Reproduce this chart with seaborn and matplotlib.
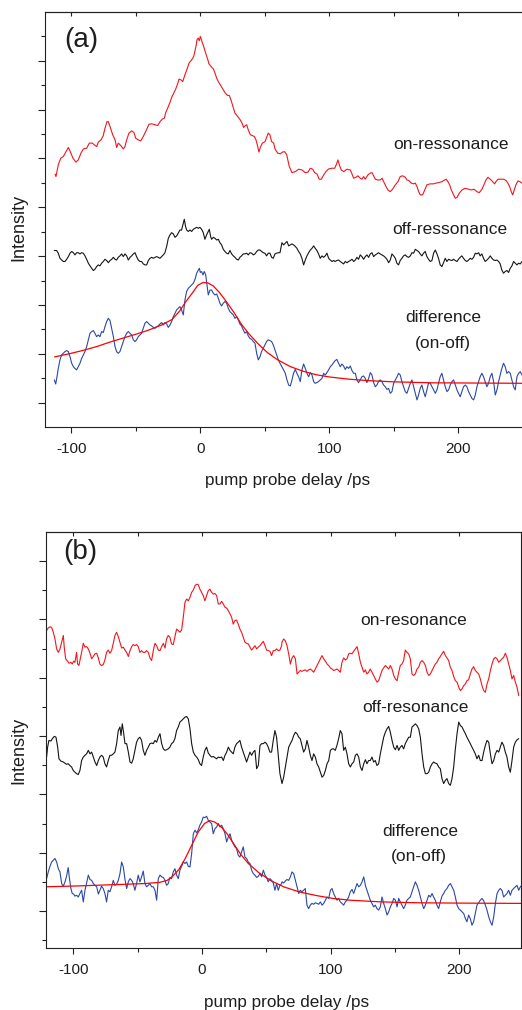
import numpy as np
import matplotlib
matplotlib.use("Agg")
import matplotlib.pyplot as plt
from matplotlib.ticker import NullFormatter
import seaborn as sns

# ---------------- panel (a) data ----------------
on_a_delay = [
    -112.6, -111.9, -110.1, -108.2, -106.2, -104.1, -102.3, -100.8, -98.7, -96.4,
    -94.6, -92.5, -90.7, -88.1, -86.0, -83.7, -81.6, -80.3, -79.1, -77.0,
    -75.2, -73.9, -72.3, -71.3, -70.0, -67.9, -66.1, -64.8, -63.6, -61.5,
    -59.7, -58.4, -57.1, -55.3, -53.2, -51.4, -50.1, -48.1, -46.2, -44.2,
    -42.1, -39.8, -37.7, -35.1, -33.0, -31.2, -29.5, -27.9, -26.8, -25.3,
    -23.7, -22.2, -20.6, -19.1, -17.5, -16.5, -15.0, -13.6, -11.9, -9.8,
    -8.8, -6.7, -5.1, -4.1, -3.1, -2.6, -1.6, -0.8, 0.0, 1.1,
    2.6, 4.2, 5.7, 6.7, 8.3, 10.1, 11.4, 12.7, 14.0, 15.5,
    17.1, 19.1, 21.2, 22.5, 23.8, 25.3, 26.9, 29.0, 31.0, 32.6,
    33.6, 34.7, 36.0, 37.2, 38.8, 40.3, 41.9, 43.2, 44.5, 45.5,
    46.5, 48.1, 50.2, 51.7, 52.7, 54.0, 55.3, 56.9, 57.9, 60.0,
    62.0, 63.6,
    65.4, 67.0, 69.0, 71.1, 73.6, 76.3, 78.8, 81.4, 83.5, 85.3,
    87.1, 88.7, 90.5, 92.2, 93.8, 95.7, 97.4, 99.5, 102.1, 104.2,
    105.4, 106.7, 107.8, 109.3, 111.2, 113.7, 116.3, 117.6, 118.9, 120.7,
    122.2, 124.0, 125.3, 126.7, 127.9, 130.0, 131.8, 133.1, 134.4, 135.7,
    137.5, 139.5, 140.9, 142.2, 144.0, 145.5, 147.3, 149.1, 151.2, 153.3,
    155.0, 156.9, 158.9, 160.2, 161.6, 163.6, 165.4, 166.7, 168.0, 169.3,
    170.5, 172.4, 174.0, 175.7, 178.3, 180.9, 182.7, 184.8, 187.4, 189.5,
    190.7, 192.0, 193.3, 194.6, 196.4, 197.7, 199.0, 200.8, 202.9, 205.4,
    208.1, 210.1, 212.2, 214.5, 216.3, 218.4, 220.5, 221.5, 223.0, 224.8,
    226.7, 228.2, 229.2, 230.8, 232.6, 235.2, 237.0, 238.5, 239.8, 241.1,
    242.2, 243.4, 244.7, 246.3, 247.8, 249.4]
on_a_signal = [
    10.36, 10.26, 10.74, 11.01, 11.08, 11.28, 11.45, 11.28, 11.01, 10.85,
    10.94, 11.22, 11.39, 11.42, 11.63, 11.63, 11.53, 11.49, 11.67, 11.76,
    11.94, 12.24, 12.51, 12.51, 12.31, 11.97, 11.76, 11.45, 11.63, 11.52,
    11.39, 11.49, 11.76, 12.04, 12.13, 12.06, 11.83, 11.76, 11.72, 11.90,
    12.13, 12.40, 12.42, 12.38, 12.35, 12.51, 12.61, 12.65, 12.88, 13.06,
    13.27, 13.50, 13.68, 13.84, 14.07, 14.25, 14.22, 14.15, 14.43, 14.73,
    14.90, 15.04, 15.18, 15.41, 15.66, 15.86, 15.93, 15.82, 16.00, 15.82,
    15.59, 15.31, 15.07, 14.88, 14.77, 14.67, 14.50, 14.29, 14.15, 14.02,
    13.88, 13.70, 13.58, 13.58, 13.40, 13.13, 12.86, 12.72, 12.58, 12.42,
    12.27, 12.34, 12.38, 12.17, 11.97, 11.94, 11.90, 11.76, 11.49, 11.26,
    11.45, 11.63, 11.69, 11.90, 12.04, 11.97, 11.69, 11.63, 11.39, 11.22,
    11.19, 11.26,
    11.28, 11.15, 10.67, 10.42, 10.46, 10.56, 10.53, 10.42, 10.44, 10.60,
    10.56, 10.42, 10.36, 10.15, 10.15, 10.33, 10.46, 10.57, 10.60, 10.60,
    10.74, 10.94, 10.74, 10.53, 10.46, 10.56, 10.53, 10.37, 10.19, 10.23,
    10.29, 10.19, 10.15, 10.26, 10.15, 10.33, 10.40, 10.42, 10.29, 10.15,
    10.12, 10.12, 10.19, 10.05, 9.85, 9.71, 9.64, 9.74, 9.92, 10.05,
    10.26, 10.29, 10.23, 10.12, 10.10, 9.99, 9.96, 9.99, 9.85, 9.64,
    9.51, 9.51, 9.71, 9.92, 9.96, 9.96, 9.99, 10.01, 10.05, 10.12,
    10.15, 10.05, 9.92, 9.71, 9.51, 9.37, 9.40, 9.58, 9.71, 9.78,
    9.74, 9.71, 9.74, 9.64, 9.60, 9.74, 9.99, 10.12, 10.23, 10.15,
    10.05, 9.96, 10.05, 10.15, 10.15, 10.15, 10.10, 9.99, 9.85, 9.64,
    9.51, 9.71, 9.92, 10.08, 10.05, 9.99]

off_a_delay = [
    -113.2, -111.4, -110.1, -108.8, -107.5, -106.2, -104.9, -103.6, -102.3, -101.0,
    -99.7, -98.4, -97.2, -95.9, -94.6, -93.3, -92.0, -90.7, -89.4, -88.1,
    -86.8, -85.5, -84.2, -82.9, -81.7, -80.4, -79.1, -77.8, -76.5, -75.2,
    -73.9, -72.6, -71.3, -70.0, -68.7, -67.4, -66.1, -64.9, -63.6, -62.3,
    -61.0, -59.7, -58.4, -57.1, -55.8, -54.5, -53.2, -51.9, -50.6, -49.4,
    -48.1, -46.8, -45.5, -44.2, -42.9, -41.6, -40.3, -39.0, -37.7, -36.4,
    -35.1, -33.9, -32.6, -31.3, -30.0, -28.7, -27.4, -26.1, -24.8, -23.5,
    -22.2, -20.9, -19.6, -18.3, -17.1, -15.8, -14.5, -13.2, -12.4, -11.4,
    -10.6, -9.3, -8.0, -6.7, -5.4, -4.1, -2.8, -1.5, -0.3, 1.0,
    2.3, 3.6, 4.9, 6.2, 7.0, 8.0, 8.8, 10.1, 11.4, 12.7,
    14.0, 15.2, 16.5, 17.8, 19.1, 20.4, 21.7, 23.0, 24.3, 25.6,
    26.9, 28.2, 29.5, 30.7, 32.0, 33.3, 34.6, 35.9, 37.2, 38.5,
    39.8, 41.1, 42.4, 43.7, 45.0, 46.3, 47.5, 48.8, 50.1, 51.4,
    52.7, 54.0, 55.3, 56.6, 57.9, 59.2, 60.5, 61.8,
    63.3, 64.6, 65.9, 67.2, 68.5, 69.8, 71.1, 72.3, 73.6, 74.9,
    76.2, 77.5, 78.8, 80.1, 81.4, 82.7, 84.0, 85.3, 86.6, 87.9,
    89.1, 90.4, 91.7, 93.0, 94.3, 95.6, 96.9, 98.2, 99.5, 100.8,
    102.1, 103.4, 104.6, 105.9, 107.2, 108.5, 109.8, 111.1, 112.4, 113.7,
    115.0, 116.3, 117.6, 118.9, 120.2, 121.4, 122.7, 124.0, 125.3, 126.6,
    127.9, 129.2, 130.5, 131.8, 133.1, 134.4, 135.7, 136.9, 138.2, 139.5,
    140.8, 142.1, 143.4, 144.7, 146.0, 147.3, 148.6, 149.9, 151.2, 152.4,
    153.7, 155.0, 156.3, 157.6, 158.9, 160.2, 161.5, 162.8, 164.1, 165.4,
    166.7, 168.0, 169.2, 170.5, 171.8, 173.1, 174.4, 175.7, 177.0, 178.3,
    179.6, 180.9, 182.2, 183.5, 184.7, 186.0, 187.3, 188.6, 189.9, 191.2,
    192.5, 193.8, 195.1, 196.4, 197.7, 199.0, 200.2, 201.5, 202.8, 204.1,
    205.4, 206.7, 208.0, 209.3, 210.6, 211.9, 213.2, 214.5, 215.8, 217.0,
    218.3, 219.6, 220.9, 222.2, 223.5, 224.8, 226.1, 227.4, 228.7, 230.0,
    231.3, 232.5, 233.8, 235.1, 236.4, 237.7, 239.0, 240.3, 241.6, 242.9,
    244.2, 245.5, 246.8, 248.1, 249.4]
off_a_signal = [
    7.23, 7.23, 7.12, 6.91, 6.84, 6.78, 6.78, 6.87, 6.98, 7.12,
    7.19, 7.14, 7.05, 7.14, 7.14, 7.09, 7.14, 7.12, 7.01, 6.87,
    6.71, 6.60, 6.50, 6.41, 6.46, 6.57, 6.64, 6.60, 6.71, 6.78,
    6.87, 6.82, 6.73, 6.82, 6.87, 6.95, 6.87, 6.84, 6.95, 7.01,
    7.09, 6.98, 7.09, 7.01, 6.84, 6.95, 7.01, 7.09, 7.14, 6.98,
    6.84, 6.78, 6.78, 6.68, 6.64, 6.64, 6.82, 6.91, 6.95, 6.91,
    6.95, 6.98, 6.95, 6.91, 6.98, 7.05, 7.14, 7.39, 7.73, 7.87,
    7.96, 7.91, 7.77, 7.83, 7.94, 8.07, 8.07, 8.35, 8.51, 8.21,
    8.07, 8.01, 8.07, 8.01, 8.10, 8.14, 8.18, 8.14, 8.18, 8.10,
    7.96, 7.69, 7.87, 8.01, 8.10, 7.80, 7.69, 7.77, 7.73, 7.66,
    7.69, 7.55, 7.46, 7.28, 7.19, 7.12, 7.09, 7.23, 7.09, 7.01,
    6.95, 6.87, 6.84, 6.95, 7.01, 7.09, 7.09, 7.12, 7.05, 7.14,
    7.12, 7.05, 7.09, 7.19, 7.25, 7.25, 7.19, 7.14, 7.12, 7.01,
    7.12, 7.12, 6.95, 6.91, 7.09, 7.12, 7.14, 7.14,
    7.55, 7.46, 7.53, 7.60, 7.42, 7.46, 7.50, 7.46, 7.40, 7.32,
    7.19, 7.09, 6.91, 6.64, 6.84, 7.01, 7.14, 7.25, 7.32, 7.42,
    7.32, 7.23, 7.09, 6.91, 7.01, 6.95, 7.01, 7.12, 6.91, 6.84,
    6.78, 6.82, 6.78, 6.82, 6.84, 6.78, 6.73, 6.68, 6.78, 6.73,
    6.78, 6.82, 6.87, 6.78, 6.84, 6.95, 6.87, 7.05, 6.98, 6.87,
    6.98, 7.05, 6.95, 7.09, 7.14, 6.98, 7.05, 7.09, 7.14, 7.09,
    7.05, 7.01, 6.95, 6.87, 6.73, 6.84, 7.09, 7.01, 6.91, 6.71,
    6.64, 6.82, 6.91, 7.01, 7.05, 6.98, 6.95, 7.01, 7.14, 7.12,
    7.28, 7.23, 7.19, 7.09, 7.01, 7.12, 7.19, 6.98, 6.87, 6.78,
    6.82, 7.12, 7.25, 7.09, 6.91, 6.64, 6.57, 6.73, 6.91, 6.78,
    6.87, 6.84, 6.82, 6.87, 6.82, 6.78, 6.87, 6.95, 7.01, 6.91,
    6.82, 6.78, 6.84, 6.91, 6.87, 6.95, 7.12, 7.09, 7.14, 7.01,
    7.09, 6.91, 6.78, 6.84, 6.91, 7.01, 6.91, 6.84, 6.82, 6.84,
    6.78, 6.68, 6.43, 6.30, 6.37, 6.41, 6.33, 6.50, 6.60, 6.78,
    6.71, 6.64, 6.71, 6.68, 6.78]

diff_a_delay = [
    -113.2, -112.1, -111.1, -110.1, -108.8, -107.5, -106.2, -104.9, -103.6, -102.3,
    -101.0, -99.7, -98.4, -97.2, -95.9, -94.6, -93.3, -92.0, -90.7, -89.4,
    -88.1, -86.8, -85.5, -84.2, -82.9, -81.7, -80.4, -79.1, -77.8, -76.5,
    -75.2, -73.9, -72.6, -71.3, -70.0, -68.7, -67.4, -66.1, -64.9, -63.6,
    -62.3, -61.0, -59.7, -58.4, -57.1, -55.8, -54.5, -53.2, -51.9, -50.6,
    -49.4, -48.1, -46.8, -45.5, -44.2, -42.9, -41.6, -40.3, -39.0, -37.7,
    -36.4, -35.1, -33.9, -32.6, -31.3, -30.0, -28.7, -27.4, -26.1, -24.8,
    -23.5, -22.2, -20.9, -19.6, -18.3, -17.1, -15.8, -14.5, -13.2, -11.9,
    -10.6, -9.3, -8.0, -6.7, -5.4, -4.1, -2.8, -1.5, -0.7, 0.0,
    1.0, 2.1, 3.1, 4.2, 5.2, 6.2, 7.5, 8.8, 10.1, 11.4,
    12.7, 14.0, 15.2, 16.5, 17.8, 19.1, 20.4, 21.7, 23.0, 24.3,
    25.6, 26.9, 28.2, 29.5, 30.7, 32.0, 33.3, 34.6, 35.9, 37.2,
    38.5, 39.8, 41.1, 42.4, 43.7, 45.0, 46.3, 47.5, 48.8, 50.1,
    51.4, 52.7, 54.0, 55.3, 56.6, 57.9, 59.2, 60.5, 61.8,
    63.3, 64.6, 65.9, 67.2, 68.5, 69.8, 71.1, 72.3, 73.6, 74.9,
    76.2, 77.5, 78.8, 80.1, 81.4, 82.7, 84.0, 85.3, 86.6, 87.9,
    89.1, 90.4, 91.7, 93.0, 94.3, 95.6, 96.9, 98.2, 99.5, 100.8,
    102.1, 103.4, 104.6, 105.9, 107.2, 108.5, 109.8, 111.1, 112.4, 113.7,
    115.0, 116.3, 117.6, 118.9, 120.2, 121.4, 122.7, 124.0, 125.3, 126.6,
    127.9, 129.2, 130.5, 131.8, 133.1, 134.4, 135.7, 136.9, 138.2, 139.5,
    140.8, 142.1, 143.4, 144.7, 146.0, 147.3, 148.6, 149.9, 151.2, 152.4,
    153.7, 155.0, 156.3, 157.6, 158.9, 160.2, 161.5, 162.8, 164.1, 165.4,
    166.7, 168.0, 169.2, 170.5, 171.8, 173.1, 174.4, 175.7, 177.0, 178.3,
    179.6, 180.9, 182.2, 183.5, 184.7, 186.0, 187.3, 188.6, 189.9, 191.2,
    192.5, 193.8, 195.1, 196.4, 197.7, 199.0, 200.2, 201.5, 202.8, 204.1,
    205.4, 206.7, 208.0, 209.3, 210.6, 211.9, 213.2, 214.5, 215.8, 217.0,
    218.3, 219.6, 220.9, 222.2, 223.5, 224.8, 226.1, 227.4, 228.7, 230.0,
    231.3, 232.5, 233.8, 235.1, 236.4, 237.7, 239.0, 240.3, 241.6, 242.9,
    244.2, 245.5, 246.8, 248.1, 249.4]
diff_a_signal = [
    1.93, 1.76, 2.06, 2.40, 2.75, 2.95, 3.02, 3.09, 3.13, 3.09,
    2.88, 2.61, 2.47, 2.40, 2.34, 2.47, 2.61, 2.81, 2.95, 3.09,
    3.29, 3.57, 3.84, 3.91, 3.95, 3.84, 3.70, 3.77, 3.70, 3.91,
    3.87, 4.11, 4.32, 4.45, 4.36, 4.04, 3.70, 3.29, 3.09, 3.02,
    3.09, 3.29, 3.50, 3.70, 3.84, 3.91, 3.84, 3.77, 3.57, 3.50,
    3.57, 3.70, 3.77, 3.84, 4.04, 4.25, 4.32, 4.25, 4.18, 4.14,
    4.08, 4.04, 4.11, 4.14, 4.22, 4.28, 4.18, 4.28, 4.22, 4.08,
    4.18, 4.32, 4.52, 4.66, 4.80, 4.86, 4.93, 4.80, 4.59, 5.20,
    5.55, 5.68, 5.75, 5.82, 5.89, 6.05, 6.30, 6.43, 6.50, 6.33,
    6.37, 6.23, 6.37, 6.23, 5.82, 5.41, 5.61, 5.61, 5.48, 5.41,
    5.45, 5.27, 5.07, 4.96, 5.07, 5.14, 5.07, 4.86, 4.73, 4.66,
    4.59, 4.45, 4.52, 4.39, 4.22, 4.14, 3.98, 3.84, 3.91, 3.73,
    3.63, 3.59, 3.50, 3.43, 3.02, 2.75, 2.88, 3.09, 3.22, 3.36,
    3.50, 3.57, 3.54, 3.50, 3.36, 3.16, 2.95, 2.75, 2.61,
    2.47, 2.34, 2.20, 1.93, 1.72, 1.68, 1.93, 2.20, 2.36, 2.20,
    2.06, 1.86, 2.34, 2.58, 2.40, 2.20, 2.06, 2.23, 2.13, 1.86,
    1.79, 1.82, 1.86, 1.93, 1.99, 2.20, 2.13, 2.23, 2.34, 2.47,
    2.54, 2.64, 2.72, 2.77, 2.61, 2.47, 2.58, 2.50, 2.36, 2.47,
    2.40, 2.50, 2.31, 2.20, 2.20, 1.93, 1.82, 1.93, 2.06, 2.09,
    1.99, 1.82, 1.99, 2.23, 2.13, 1.82, 1.65, 1.72, 1.86, 1.93,
    1.86, 1.72, 1.65, 1.54, 1.58, 1.38, 1.45, 1.79, 1.93, 2.04,
    2.20, 2.13, 1.86, 1.65, 1.45, 1.38, 1.58, 1.79, 1.93, 1.65,
    1.38, 1.11, 1.31, 1.58, 1.72, 1.45, 1.24, 1.52, 1.82, 1.79,
    1.65, 1.52, 1.38, 1.52, 1.79, 2.06, 2.20, 1.93, 1.65, 1.45,
    1.52, 1.72, 1.86, 1.93, 1.72, 1.52, 1.38, 1.24, 1.45, 1.65,
    1.72, 1.65, 1.45, 1.31, 1.17, 1.11, 1.31, 1.65, 1.86, 2.06,
    2.20, 2.06, 1.86, 1.65, 1.79, 2.06, 2.20, 1.86, 1.31, 1.52,
    1.86, 2.13, 2.40, 2.61, 2.47, 2.20, 2.27, 2.20, 1.93, 1.65,
    1.52, 2.06, 2.20, 2.27, 2.13]

fit_a_delay = [-113, -100, -90, -80, -70, -60, -50, -40, -30, -22,
               -16, -11, -6, -2, 2, 6, 10, 15, 20, 26,
               32, 38, 45, 52, 60, 70, 80, 90, 100, 115,
               130, 150, 180, 250]
fit_a_signal = [2.87, 3.02, 3.15, 3.30, 3.48, 3.64, 3.80, 3.97, 4.18, 4.40,
                4.75, 5.15, 5.50, 5.80, 5.92, 5.90, 5.78, 5.50, 5.15, 4.70,
                4.20, 3.80, 3.40, 3.05, 2.75, 2.47, 2.28, 2.14, 2.05, 1.96,
                1.90, 1.85, 1.81, 1.79]

# ---------------- panel (b) data ----------------
grid_b_left = [
    -92.2, -90.9, -89.6, -88.3, -87.0, -85.7, -84.4, -83.1, -81.8, -80.5,
    -79.3, -78.0, -76.7, -75.4, -74.1, -72.8, -71.5, -70.2, -68.9, -67.6,
    -66.3, -65.0, -63.7, -62.4, -61.1, -59.8, -58.5, -57.2, -55.9, -54.6,
    -53.4, -52.1, -50.8, -49.5, -48.2, -46.9, -45.6, -44.3, -43.0, -41.7,
    -40.4, -39.1, -37.8, -36.5, -35.2, -33.9, -32.6, -31.3, -30.0, -28.7,
    -27.5, -26.2, -24.9, -23.6, -22.3, -21.0, -19.7, -18.4, -17.1, -15.8,
    -14.5, -13.2, -11.9, -10.6, -9.3, -8.0, -6.7, -5.4, -4.1, -2.8,
    -1.6, -0.3, 1.0, 2.3, 3.6, 4.9, 6.2, 7.5, 8.8, 10.1,
    11.4, 12.7, 14.0, 15.3, 16.6, 17.9, 19.2, 20.5, 21.8, 23.1,
    24.3, 25.6, 26.9, 28.2, 29.5, 30.8, 32.1, 33.4, 34.7, 36.0,
    37.3, 38.6, 39.9, 41.2, 42.5, 43.8, 45.1, 46.4, 47.7, 49.0,
    50.2, 51.5, 52.8, 54.1, 55.4, 56.7, 58.0, 59.3, 60.6, 61.9]
grid_b_right = [
    62.2, 63.5, 64.8, 66.1, 67.4, 68.7, 70.0, 71.3, 72.6, 73.9,
    75.2, 76.4, 77.7, 79.0, 80.3, 81.6, 82.9, 84.2, 85.5, 86.8,
    88.1, 89.4, 90.7, 92.0, 93.3, 94.6, 95.9, 97.2, 98.5, 99.8,
    101.1, 102.3, 103.6, 104.9, 106.2, 107.5, 108.8, 110.1, 111.4, 112.7,
    114.0, 115.3, 116.6, 117.9, 119.2, 120.5, 121.8, 123.1, 124.4, 125.7,
    127.0, 128.2, 129.5, 130.8, 132.1, 133.4, 134.7, 136.0, 137.3, 138.6,
    139.9, 141.2, 142.5, 143.8, 145.1, 146.4, 147.7, 149.0, 150.3, 151.6,
    152.9, 154.1, 155.4, 156.7, 158.0, 159.3, 160.6, 161.9, 163.2, 164.5,
    165.8, 167.1, 168.4, 169.7, 171.0, 172.3, 173.6, 174.9, 176.2, 177.5,
    178.8, 180.0, 181.3, 182.6, 183.9, 185.2, 186.5, 187.8, 189.1, 190.4,
    191.7, 193.0, 194.3, 195.6, 196.9, 198.2, 199.5, 200.8, 202.1, 203.4,
    204.7, 205.9, 207.2, 208.5, 209.8, 211.1, 212.4, 213.7, 215.0, 216.3,
    217.6, 218.9, 220.2, 221.5, 222.8, 224.1, 225.4, 226.7, 228.0, 229.3,
    230.6, 231.8, 233.1, 234.4, 235.7, 237.0, 238.3, 239.6, 240.9, 242.2,
    243.5, 244.8, 246.1, 247.4, 248.7]

on_b_delay = ([-120.7, -119.4, -118.1, -116.8, -115.5, -114.2, -112.9, -111.6, -110.3, -109.0,
               -107.7, -107.0, -105.9, -104.4, -103.3, -101.8, -100.8, -99.7, -98.7, -97.4,
               -96.6, -95.6, -94.5, -93.5] + grid_b_left + grid_b_right[:143])
on_b_signal = [
    10.62, 10.71, 10.75, 10.73, 10.56, 10.33, 9.99, 9.87, 9.99, 10.22,
    10.45, 10.05, 9.65, 9.57, 9.50, 9.53, 9.47, 9.57, 9.53, 9.87,
    9.47, 9.42, 9.65, 9.87,
    10.18, 10.05, 10.07, 9.99, 9.84, 9.65, 9.73, 9.82, 9.84, 9.68,
    9.47, 9.42, 9.45, 9.61, 9.87, 9.95, 9.84, 9.93, 10.18, 10.45,
    10.56, 10.41, 10.22, 10.02, 10.05, 9.95, 9.87, 9.73, 9.93, 10.07,
    10.14, 10.10, 10.14, 10.07, 9.87, 9.93, 9.87, 9.87, 9.93, 9.87,
    9.68, 9.59, 9.93, 10.18, 10.10, 9.95, 9.93, 10.07, 10.18, 10.02,
    10.33, 10.45, 10.39, 10.16, 10.14, 10.41, 10.67, 10.62, 10.56, 10.64,
    11.07, 11.59, 11.70, 11.64, 11.76, 11.93, 12.01, 12.16, 12.21, 12.19,
    12.04, 11.93, 11.82, 11.64, 11.82, 11.99, 12.04, 11.93, 11.87, 11.89,
    11.82, 11.53, 11.53, 11.62, 11.53, 11.42, 11.39, 11.30, 11.19, 11.07,
    10.84, 10.96, 10.98, 10.84, 10.67, 10.56, 10.39, 10.22, 10.18, 10.16,
    10.05, 9.95, 10.02, 10.10, 9.99, 10.05, 10.10, 10.18, 10.25, 10.10,
    9.95, 9.93, 9.91, 9.76, 9.93, 9.93, 9.99, 9.93, 9.95, 10.10,
    10.22, 10.33, 10.27, 10.10, 9.82, 9.47, 9.68, 9.76, 9.65, 9.13,
    9.19, 9.25, 9.22, 9.25, 9.27, 9.22, 9.27, 9.30, 9.25, 9.19,
    9.30, 9.42, 9.53, 9.65, 9.76, 9.65, 9.57, 9.47, 9.42, 9.34,
    9.30, 9.25, 9.27, 9.30, 9.25, 9.19, 9.53, 9.68, 9.61, 9.65,
    9.82, 9.84, 9.82, 9.91, 9.99, 10.07, 9.82, 9.53, 9.36, 9.19,
    9.27, 9.13, 9.19, 9.30, 9.19, 9.08, 8.96, 8.85, 8.90, 9.08,
    9.25, 9.34, 9.42, 9.36, 9.30, 9.42, 9.30, 9.08, 8.96, 8.90,
    9.19, 9.42, 9.47, 9.59, 9.95, 9.87, 9.82, 9.65, 9.13, 9.08,
    9.13, 9.30, 9.36, 9.53, 9.59, 9.53, 9.42, 9.19, 9.08, 9.13,
    9.25, 9.36, 9.47, 9.53, 9.65, 9.73, 9.82, 9.91, 9.76, 9.68,
    9.59, 9.36, 9.25, 9.04, 8.90, 8.85, 8.68, 8.56, 8.62, 8.73,
    8.79, 8.90, 8.93, 9.13, 9.30, 9.38, 9.25, 9.19, 9.13, 8.96,
    8.73, 8.56, 8.50, 8.79, 8.96, 9.25, 9.47, 9.65, 9.70, 9.65,
    9.53, 9.59, 9.65, 9.70, 9.84, 9.70, 9.47, 9.25, 8.96, 9.08,
    8.85, 8.68, 8.39]

off_b_delay = ([-120.7, -119.9, -118.9, -117.3, -116.3, -114.7, -113.4, -112.1, -111.1, -109.6,
                -107.7, -106.4, -105.2, -103.9, -102.6, -101.3, -100.0, -98.7, -97.4, -96.1,
                -94.8, -93.5] + grid_b_left[:23] + [-62.9, -61.9, -61.1] + grid_b_left[25:]
               + grid_b_right[:143])
off_b_signal = [
    6.28, 6.62, 6.85, 6.83, 6.91, 6.99, 6.96, 6.62, 6.22, 6.14,
    6.11, 6.07, 6.03, 6.05, 5.99, 5.94, 5.82, 5.76, 5.71, 5.68,
    5.82, 6.16, 6.28, 6.34, 6.39, 6.51, 6.39, 6.45, 6.28, 6.11,
    5.99, 6.16, 6.28, 6.34, 6.28, 6.05, 5.94, 6.16, 6.34, 6.34,
    6.39, 6.45, 6.74, 7.19, 7.31, 7.02, 7.42, 7.19, 6.74, 6.74,
    6.45, 6.11, 6.07, 6.22, 6.51, 6.79, 6.91, 6.96, 6.85, 6.51,
    6.34, 6.51, 6.62, 6.74, 6.76, 6.74, 6.85, 6.79, 6.96, 7.08,
    6.74, 6.56, 6.51, 6.53, 6.56, 6.62, 6.74, 6.79, 6.91, 7.19,
    7.31, 7.48, 7.53, 7.59, 7.65, 7.67, 7.59, 7.25, 6.74, 6.45,
    6.34, 6.28, 6.19, 6.05, 5.99, 6.28, 6.51, 6.62, 6.42, 6.34,
    6.28, 6.30, 6.26, 6.22, 6.28, 6.26, 6.28, 6.16, 6.34, 6.45,
    6.62, 6.51, 6.45, 6.39, 6.62, 6.74, 6.79, 6.85, 6.62, 6.45,
    6.28, 6.11, 6.28, 6.45, 6.34, 6.45, 6.51, 5.88, 5.99, 6.68,
    6.74, 6.74, 6.79, 6.74, 6.62, 6.45, 6.45, 6.85, 7.19, 6.96,
    6.34, 5.71, 5.42,
    5.37, 5.59, 5.94, 6.28, 6.62, 6.74, 6.85, 7.02, 7.13, 7.08,
    6.96, 6.91, 6.68, 6.45, 6.56, 6.85, 6.62, 6.34, 6.16, 6.39,
    6.28, 6.05, 5.94, 5.76, 5.59, 5.65, 5.82, 6.05, 6.16, 6.51,
    6.56, 6.56, 6.51, 6.68, 6.91, 7.19, 7.08, 6.51, 6.62, 6.39,
    6.05, 5.94, 6.05, 6.11, 6.34, 6.39, 6.28, 5.94, 5.82, 6.05,
    6.19, 6.05, 6.16, 6.16, 6.28, 6.11, 6.16, 5.99, 6.05, 6.39,
    6.68, 6.96, 7.13, 7.25, 7.33, 7.13, 6.85, 6.62, 6.53, 6.68,
    6.51, 6.62, 6.68, 6.56, 6.74, 6.85, 6.96, 6.96, 7.31, 7.36,
    7.42, 7.36, 7.25, 6.96, 6.39, 5.94, 5.71, 5.71, 5.76, 5.94,
    6.05, 6.11, 6.07, 6.05, 5.94, 5.88, 5.54, 5.37, 5.48, 5.54,
    5.37, 5.31, 5.54, 5.94, 6.56, 7.08, 7.48, 7.36, 7.31, 7.19,
    7.08, 6.96, 6.85, 6.74, 6.62, 6.51, 6.39, 6.22, 6.34, 6.16,
    6.16, 6.45, 6.68, 6.85, 6.79, 6.39, 6.05, 6.16, 6.39, 6.51,
    6.45, 6.62, 6.79, 6.68, 6.45, 6.28, 5.94, 5.76, 6.16, 6.62,
    6.79, 6.87, 6.91]

diff_b_delay = ([-120.7, -119.4, -118.1, -116.8, -115.5, -114.2, -112.9, -111.6, -110.3, -109.0,
                 -107.7, -106.4, -105.2, -103.9, -103.1, -101.8, -100.8, -99.7, -98.7, -97.4,
                 -96.1, -94.8, -93.5] + grid_b_left + grid_b_right)
diff_b_signal = [
    2.11, 2.34, 2.53, 2.68, 2.74, 2.80, 2.68, 2.45, 2.34, 1.94,
    1.85, 2.00, 2.19, 2.49, 2.17, 1.77, 1.60, 1.58, 1.51, 1.54,
    1.48, 1.60, 1.71, 1.31, 1.71, 1.96, 2.23, 2.08, 2.05, 1.94,
    1.88, 1.83, 1.58, 1.71, 1.85, 1.77, 1.60, 1.31, 1.71, 1.66,
    1.83, 2.05, 1.88, 1.92, 2.05, 2.28, 2.68, 2.51, 2.08, 1.77,
    2.00, 2.11, 2.05, 1.94, 1.71, 1.94, 2.23, 2.00, 2.17, 2.37,
    1.94, 1.83, 1.88, 1.94, 1.83, 1.83, 1.71, 1.37, 2.11, 2.23,
    2.17, 2.15, 2.05, 1.88, 1.94, 2.15, 2.11, 2.34, 2.45, 2.23,
    2.11, 2.40, 2.53, 2.68, 2.63, 2.68, 2.53, 2.51, 2.97, 3.65,
    3.77, 3.68, 3.79, 3.94, 4.05, 4.22, 4.20, 4.25, 4.11, 4.05,
    4.00, 3.65, 3.82, 3.88, 4.00, 3.88, 3.94, 3.82, 3.65, 3.37,
    3.54, 3.65, 3.42, 3.31, 3.20, 3.14, 2.91, 2.85, 3.03, 3.20,
    2.85, 2.80, 2.68, 2.63, 2.40, 2.28, 2.23, 2.15, 2.19, 2.28,
    2.17, 2.40, 2.23, 2.15, 2.00, 2.11, 2.05, 1.96, 1.71, 1.94,
    1.71, 1.88, 1.94,
    2.00, 1.96, 2.03, 2.08, 2.05, 2.17, 2.34, 2.28, 2.05, 1.83,
    1.60, 1.71, 1.66, 1.71, 1.77, 1.20, 1.08, 1.20, 1.26, 1.23,
    1.28, 1.26, 1.23, 1.31, 1.20, 1.26, 1.37, 1.48, 1.43, 1.71,
    1.77, 1.60, 1.48, 1.37, 1.43, 1.31, 1.26, 1.20, 1.31, 1.37,
    1.48, 1.66, 1.74, 1.60, 1.77, 1.94, 1.83, 1.88, 2.00, 2.17,
    1.88, 1.71, 1.54, 1.37, 1.26, 1.14, 1.20, 1.08, 1.03, 1.14,
    1.48, 1.26, 1.08, 0.86, 0.97, 1.14, 1.26, 1.43, 1.37, 1.14,
    1.43, 1.31, 1.20, 1.08, 1.20, 1.37, 1.43, 1.48, 1.66, 1.83,
    2.00, 1.88, 1.71, 1.48, 1.26, 1.08, 1.20, 1.37, 1.54, 1.48,
    1.60, 1.48, 1.37, 1.20, 1.08, 1.31, 1.51, 1.60, 1.71, 1.77,
    1.88, 1.94, 1.83, 1.71, 1.48, 1.20, 1.08, 1.03, 0.97, 0.91,
    0.74, 0.63, 0.86, 0.74, 0.51, 0.63, 0.91, 1.20, 1.28, 1.37,
    1.43, 1.35, 1.20, 1.03, 0.80, 0.63, 0.51, 0.80, 1.26, 1.60,
    1.71, 1.77, 1.71, 1.48, 1.54, 1.60, 1.71, 1.54, 1.71, 1.77,
    1.83, 1.88, 1.71, 1.83, 1.88]

fit_b_delay = [-121, -96, -70, -45, -33, -27, -23, -18, -13, -8,
               -3, 2, 6, 10, 15, 20, 25, 30, 36, 44,
               54, 64, 76, 90, 102, 115, 140, 170, 200, 248]
fit_b_signal = [1.83, 1.86, 1.90, 1.94, 1.98, 2.05, 2.18, 2.42, 2.80, 3.25,
                3.70, 4.00, 4.10, 4.05, 3.88, 3.62, 3.28, 2.95, 2.63, 2.32,
                2.03, 1.82, 1.65, 1.52, 1.43, 1.37, 1.31, 1.28, 1.27, 1.26]

x_major = [-100, 0, 100, 200]
x_minor = [-50, 50, 150]

# ---------------- styling ----------------
sns.set_style("ticks")
plt.rcParams["font.family"] = ["Liberation Sans", "DejaVu Sans"]
plt.rcParams["axes.unicode_minus"] = False

RED = "#f2151c"
BLUE = "#2a48a8"
BLACK = "#151515"
TXT = "#1e1e1e"
SPINE = "#222222"

fig = plt.figure(figsize=(5.22, 10.10), dpi=100)
ax_a = fig.add_axes([45 / 522, 1 - 427 / 1010, (523 - 45) / 522, 415 / 1010])
ax_b = fig.add_axes([45.7 / 522, 1 - 948 / 1010, (521 - 45.7) / 522, 416 / 1010])


def draw(ax, x, y, color, lw=0.8):
    assert len(x) == len(y), (len(x), len(y))
    sns.lineplot(x=np.asarray(x, float), y=np.asarray(y, float), ax=ax, color=color,
                 linewidth=lw, estimator=None, sort=False, legend=False)


draw(ax_a, on_a_delay, on_a_signal, RED)
draw(ax_a, off_a_delay, off_a_signal, BLACK)
draw(ax_a, diff_a_delay, diff_a_signal, BLUE)
draw(ax_a, fit_a_delay, fit_a_signal, "#ff0000", 0.9)

draw(ax_b, on_b_delay, on_b_signal, RED)
draw(ax_b, off_b_delay, off_b_signal, BLACK)
draw(ax_b, diff_b_delay, diff_b_signal, BLUE)
draw(ax_b, fit_b_delay, fit_b_signal, "#ff0000", 0.9)

ax_a.set_xlim(-120.4, 250.2)
ax_a.set_ylim(0, 17)
ax_b.set_xlim(-121.4, 247.9)
ax_b.set_ylim(-0.27, 14.0)

for ax, ymaj, ymin in ((ax_a, np.arange(1, 16, 2), np.arange(2, 17, 2)),
                       (ax_b, np.arange(1, 14, 2), np.arange(0, 13, 2))):
    ax.set_xticks(x_major)
    ax.set_xticks(x_minor, minor=True)
    ax.set_xticklabels([str(v) for v in x_major])
    ax.set_yticks(ymaj)
    ax.set_yticks(ymin, minor=True)
    ax.tick_params(axis="x", which="major", direction="out", length=4, width=0.8,
                   pad=7, labelsize=11, labelcolor=TXT, color=SPINE)
    ax.tick_params(axis="x", which="minor", direction="out", length=3, width=0.8, color=SPINE)
    ax.tick_params(axis="y", which="major", direction="out", length=5, width=0.8,
                   labelleft=False, color=SPINE)
    ax.tick_params(axis="y", which="minor", direction="out", length=3, width=0.8, color=SPINE)
    for s in ax.spines.values():
        s.set_linewidth(0.8)
        s.set_color(SPINE)
    sec = ax.secondary_xaxis("top")
    sec.set_xticks(x_major + x_minor)
    sec.xaxis.set_major_formatter(NullFormatter())
    sec.tick_params(axis="x", direction="in", length=3, width=0.8, color=SPINE)
    sec.spines["top"].set_linewidth(0.8)
    sec.spines["top"].set_color(SPINE)
    ax.set_xlabel("pump probe delay /ps", fontsize=12.3, color=TXT)
    ax.set_ylabel("Intensity", fontsize=13, color=TXT)
    ax.xaxis.label.set_va("center")
    ax.yaxis.label.set_va("center")

ax_a.spines["right"].set_visible(False)
ax_a.xaxis.set_label_coords(0.507, -0.128)
ax_a.yaxis.set_label_coords(-0.0545, 0.48)
ax_b.xaxis.set_label_coords(0.507, -0.130)
ax_b.yaxis.set_label_coords(-0.056, 0.476)

# panel labels and trace annotations
ax_a.text(0.0755, 0.933, "(a)", transform=ax_a.transAxes, fontsize=20, ha="center", va="center", color=TXT)
ax_b.text(0.072, 0.952, "(b)", transform=ax_b.transAxes, fontsize=20, ha="center", va="center", color=TXT)

ann_kw = dict(fontsize=12.5, ha="center", va="center", color=TXT)
ax_a.text(0.849, 0.680, "on-ressonance", transform=ax_a.transAxes, **ann_kw)
ax_a.text(0.847, 0.475, "off-ressonance", transform=ax_a.transAxes, **ann_kw)
ax_a.text(0.834, 0.263, "difference", transform=ax_a.transAxes, **ann_kw)
ax_a.text(0.832, 0.202, "(on-off)", transform=ax_a.transAxes, **ann_kw)

ax_b.text(0.775, 0.788, "on-resonance", transform=ax_b.transAxes, **ann_kw)
ax_b.text(0.777, 0.577, "off-resonance", transform=ax_b.transAxes, **ann_kw)
ax_b.text(0.787, 0.279, "difference", transform=ax_b.transAxes, **ann_kw)
ax_b.text(0.785, 0.219, "(on-off)", transform=ax_b.transAxes, **ann_kw)

fig.savefig("out.png", dpi=100)
